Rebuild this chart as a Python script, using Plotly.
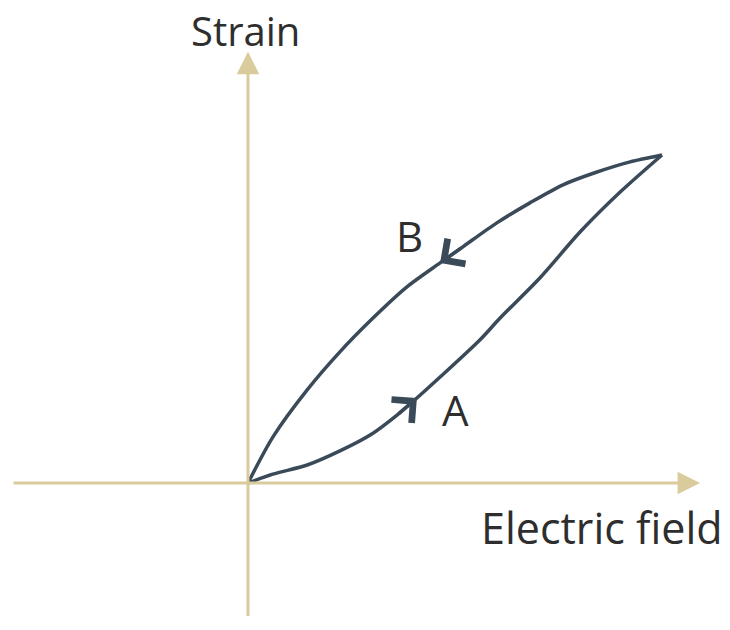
import plotly.graph_objects as go

# loop (electric field, strain), arbitrary units, tip at (10, 10)
# loading branch A (lower)
field_a = [0, 0.60, 1.43, 2.22, 3.02, 3.60, 4.08, 4.64, 5.60, 6.09, 7.05, 8.02, 8.99, 10]
strain_a = [0, 0.27, 0.55, 0.98, 1.52, 2.07, 2.59, 3.23, 4.36, 5.03, 6.25, 7.65, 8.87, 10]
# unloading branch B (upper), listed from origin to tip
field_b = [0, 0.60, 1.43, 2.22, 3.02, 3.84, 4.64, 5.19, 6.01, 6.81, 7.61, 8.43, 9.23, 10]
strain_b = [0, 1.40, 2.84, 4.00, 5.03, 5.98, 6.71, 7.20, 7.93, 8.54, 9.09, 9.48, 9.79, 10]

axis_col = '#dacb9c'
curve_col = '#3a4a58'
text_col = '#2e2e2e'
font_name = 'Open Sans'

fig = go.Figure()
fig.add_trace(go.Scatter(x=field_a, y=strain_a, mode='lines',
                         line=dict(color=curve_col, width=3.5, shape='spline', smoothing=0.8),
                         hoverinfo='skip'))
fig.add_trace(go.Scatter(x=field_b, y=strain_b, mode='lines',
                         line=dict(color=curve_col, width=3.5, shape='spline', smoothing=0.8),
                         hoverinfo='skip'))

annos = []
# axes drawn as arrows
annos.append(dict(x=10.92, y=0, ax=-5.7, ay=0, xref='x', yref='y', axref='x', ayref='y',
                  showarrow=True, arrowhead=2, arrowsize=1.5, arrowwidth=3,
                  arrowcolor=axis_col, text=''))
annos.append(dict(x=0, y=13.15, ax=0, ay=-4.1, xref='x', yref='y', axref='x', ayref='y',
                  showarrow=True, arrowhead=2, arrowsize=1.5, arrowwidth=3,
                  arrowcolor=axis_col, text=''))
# direction arrows on the loop
annos.append(dict(x=field_a[6], y=strain_a[6], ax=field_a[5], ay=strain_a[5],
                  xref='x', yref='y', axref='x', ayref='y',
                  showarrow=True, arrowhead=4, arrowsize=1.7, arrowwidth=3.5,
                  arrowcolor=curve_col, text=''))
annos.append(dict(x=field_b[6], y=strain_b[6], ax=field_b[7], ay=strain_b[7],
                  xref='x', yref='y', axref='x', ayref='y',
                  showarrow=True, arrowhead=4, arrowsize=1.7, arrowwidth=3.5,
                  arrowcolor=curve_col, text=''))
# labels
labels = [('Strain', -0.07, 13.8, 40), ('Electric field', 8.55, -1.37, 43),
          ('A', 5.02, 2.23, 42), ('B', 3.89, 7.56, 42)]
for txt, lx, ly, fs in labels:
    annos.append(dict(x=lx, y=ly, xref='x', yref='y', text=txt, showarrow=False,
                      font=dict(family=font_name, size=fs, color=text_col)))

# page body keeps an 8px margin, so the figure is a little smaller and the ranges shifted
fig.update_layout(width=722, height=622, margin=dict(l=0, r=0, t=0, b=0),
                  paper_bgcolor='white', plot_bgcolor='white', showlegend=False,
                  xaxis=dict(range=[-5.797, 11.643], visible=False),
                  yaxis=dict(range=[-4.48, 14.48], visible=False),
                  annotations=annos)
fig.write_html("out.html")
